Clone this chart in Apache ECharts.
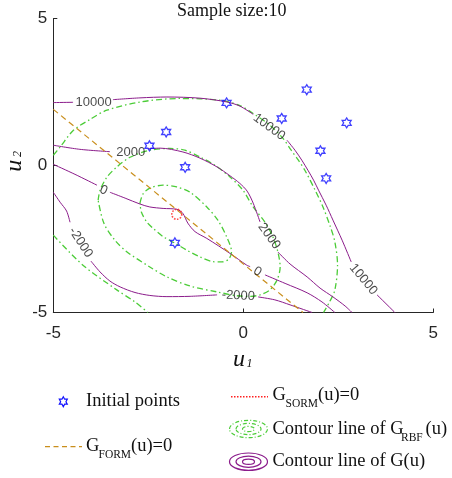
<!DOCTYPE html>
<html lang="en">
  <head>
    <meta charset="UTF-8" />
    <title>Sample size:10</title>
    <style>
      html,
      body {
        margin: 0;
        padding: 0;
        background: #fff;
      }
      #main {
        width: 452px;
        height: 478px;
      }
    </style>
  </head>
  <body>
    <div id="main"></div>
    <script src="https://cdn.jsdelivr.net/npm/echarts@6.0.0/dist/echarts.min.js"></script>
    <script>
      // contour lines of G(u), split where the level labels sit
      const g10000 = [
        [[-5, 2.14], [-4.48, 2.15]],
        [[-3.43, 2.24], [-2.72, 2.3], [-2.01, 2.33], [-1.14, 2.29], [-0.43, 2.16], [-0.09, 2.02], [0.26, 1.74]],
        [[1.15, 0.86], [1.36, 0.52], [1.54, 0.18], [1.7, -0.16], [1.85, -0.5], [1.98, -0.84], [2.18, -1.35], [2.36, -1.86], [2.6, -2.54], [2.84, -3.28]],
        [[3.52, -4.4], [3.99, -5]],
      ];
      const g2000 = [
        [[-5, 0.69], [-4.3, 0.55], [-3.51, 0.47]],
        [[-2.51, 0.57], [-2.19, 0.59], [-1.59, 0.46], [-1.14, 0.25], [-0.69, -0.05], [-0.35, -0.35], [-0.09, -0.61], [0.1, -0.87], [0.26, -1.28], [0.44, -1.92]],
        [[0.91, -2.94], [1.23, -3.35], [1.68, -3.79], [2.02, -4.17], [2.36, -4.47], [2.68, -4.78], [2.86, -5]],
      ];
      const g0 = [
        [[-5, 0.04], [-4.43, -0.3], [-3.85, -0.67]],
        [[-3.51, -0.91], [-3.11, -1.11], [-2.72, -1.31], [-2.46, -1.41], [-2.11, -1.46], [-1.75, -1.49], [-1.59, -1.63], [-1.46, -1.96], [-1.27, -2.25], [-0.96, -2.48], [-0.35, -2.99], [0.09, -3.39], [0.18, -3.44]],
        [[0.57, -3.72], [1.1, -4.01], [1.68, -4.33], [2.07, -4.64], [2.41, -5]],
      ];
      const gMinus2000 = [
        [[-5, -0.91], [-4.82, -1.25], [-4.65, -1.55], [-4.56, -1.93]],
        [[-4.01, -3.25], [-3.77, -3.62], [-3.51, -3.93], [-3.24, -4.13], [-2.85, -4.32], [-2.46, -4.42], [-2.01, -4.46], [-1.4, -4.45], [-0.69, -4.4]],
        [[0.39, -4.47], [0.83, -4.57], [1.23, -4.74], [1.81, -5]],
      ];

      // contour lines of the RBF surrogate
      const rbfOuter = [
        [[-5, 0.35], [-4.82, 0.63], [-4.47, 1.2], [-4.03, 1.57], [-3.59, 1.88], [-2.72, 2.16], [-1.67, 2.28], [-0.61, 2.22], [-0.09, 2.04], [0.26, 1.77], [0.7, 1.37], [1.04, 0.93], [1.26, 0.52], [1.45, 0.18], [1.62, -0.16], [1.89, -0.84], [2.1, -1.42], [2.29, -2.08], [2.41, -2.6], [2.48, -3.38], [2.41, -4.23], [2.27, -4.64], [2.11, -5]],
        [[-5, -2.37], [-4.22, -3.39], [-3.33, -4.23], [-2.85, -4.64], [-2.51, -5]],
      ];
      const rbfMiddle = [
        [-3.82, -1.18], [-3.77, -0.84], [-3.59, -0.4], [-3.33, -0.05], [-2.98, 0.28], [-2.46, 0.52], [-1.93, 0.58], [-1.54, 0.52], [-1.14, 0.29], [-0.75, 0.01], [-0.35, -0.39], [-0.01, -0.84], [0.26, -1.41], [0.57, -1.93], [0.78, -2.43], [0.91, -2.94], [0.97, -3.45], [0.89, -3.89], [0.7, -4.23], [0.44, -4.4], [0.18, -4.45], [-0.17, -4.43], [-0.69, -4.3], [-1.4, -4.1], [-2.01, -3.79], [-2.46, -3.45], [-3.06, -2.94], [-3.38, -2.54], [-3.67, -1.96], [-3.82, -1.18],
      ];
      const rbfInner = [
        [-2.72, -1.28], [-2.64, -0.97], [-2.46, -0.77], [-2.11, -0.67], [-1.75, -0.73], [-1.4, -0.91], [-0.96, -1.41], [-0.67, -1.86], [-0.44, -2.42], [-0.31, -2.93], [-0.38, -3.18], [-0.56, -3.28], [-0.8, -3.27], [-1.14, -3.11], [-1.49, -2.88], [-1.8, -2.64], [-2.11, -2.42], [-2.38, -2.13], [-2.54, -1.92], [-2.68, -1.59], [-2.72, -1.28],
      ];

      const formLine = [[-5, 1.91], [1.57, -5]];
      const sormPoint = [[-1.75, -1.66]];
      const initialPoints = [
        [-0.44, 2.13], [1.01, 1.6], [1.67, 2.58], [2.72, 1.45], [2.03, 0.5],
        [2.18, -0.44], [-2.03, 1.14], [-2.47, 0.67], [-1.53, -0.06], [-1.8, -2.63],
      ];
      // level label: text, u1, u2, angle
      const contourLabels = [
        ["10000", -3.94, 2.16, 0],
        ["10000", 0.68, 1.31, -36],
        ["2000", -2.96, 0.45, 0],
        ["0", -3.68, -0.84, -25],
        ["-2000", -4.28, -2.62, -57],
        ["-2000", -0.13, -4.43, -3],
        ["2000", 0.68, -2.4, -54],
        ["0", 0.37, -3.61, -30],
        ["10000", 3.16, -3.87, -50],
      ];
      const ticks = [-5, 0, 5];

      const purple = "#8b1c8b";
      const green = "#4ccc38";
      const orange = "#c98e1c";
      const serif = '"Liberation Serif", "Times New Roman", serif';
      const sans = '"Liberation Sans", Arial, sans-serif';
      const starPath =
        "path://M0,-100L28.9,-50L86.6,-50L57.7,0L86.6,50L28.9,50L0,100L-28.9,50L-86.6,50L-57.7,0L-86.6,-50L-28.9,-50Z";
      const starPts = [[0, -1], [0.289, -0.5], [0.866, -0.5], [0.577, 0], [0.866, 0.5], [0.289, 0.5], [0, 1], [-0.289, 0.5], [-0.866, 0.5], [-0.577, 0], [-0.866, -0.5], [-0.289, -0.5]];

      function curves(segs, color, width, dash, z) {
        return segs.map((seg) => ({
          type: "line",
          data: seg,
          showSymbol: false,
          smooth: 0.3,
          silent: true,
          z: z,
          lineStyle: { color: color, width: width, type: dash },
        }));
      }

      function txt(x, y, text, size, extra) {
        return {
          type: "text",
          x: x,
          y: y,
          silent: true,
          rotation: (extra && extra.rotation) || 0,
          style: {
            text: text,
            fontSize: size,
            fontFamily: serif,
            fontStyle: extra && extra.italic ? "italic" : "normal",
            fill: "#111",
            textAlign: "left",
            align: "left",
            textVerticalAlign: "middle",
            verticalAlign: "middle",
          },
        };
      }

      function rings(cx, cy, color, dash) {
        return [[19, 8.7], [12.5, 5.6], [6, 2.6]].map((r) => ({
          type: "ellipse",
          silent: true,
          shape: { cx: cx, cy: cy, rx: r[0], ry: r[1] },
          style: { fill: "none", stroke: color, lineWidth: 1.2, lineDash: dash },
        }));
      }

      const axisCommon = {
        type: "value",
        min: -5,
        max: 5,
        interval: 5,
        axisLine: { show: true, onZero: false, lineStyle: { color: "#262626", width: 1 } },
        axisTick: { show: true, inside: true, length: 4, lineStyle: { color: "#262626" } },
        splitLine: { show: false },
      };

      const myChart = echarts.init(document.getElementById("main"));
      const series = [].concat(
        curves(rbfOuter, green, 1.3, [6, 3, 1.5, 3], 2),
        curves([rbfMiddle, rbfInner], green, 1.3, [6, 3, 1.5, 3], 2),
        curves(g10000, purple, 1, "solid", 3),
        curves(g2000, purple, 1, "solid", 3),
        curves(g0, purple, 1, "solid", 3),
        curves(gMinus2000, purple, 1, "solid", 3),
        [
          {
            type: "line",
            data: formLine,
            showSymbol: false,
            silent: true,
            z: 4,
            lineStyle: { color: orange, width: 1.2, type: [6, 4] },
          },
          {
            type: "scatter",
            data: sormPoint,
            symbol: "circle",
            symbolSize: 10,
            silent: true,
            z: 5,
            itemStyle: { color: "rgba(0,0,0,0)", borderColor: "#ff2020", borderWidth: 1.6, borderType: [1.5, 1.5] },
          },
          {
            type: "scatter",
            data: initialPoints,
            symbol: starPath,
            symbolSize: [9, 10],
            silent: true,
            z: 6,
            itemStyle: { color: "rgba(0,0,0,0)", borderColor: "#1010ff", borderWidth: 1.3 },
          },
          {
            type: "scatter",
            symbolSize: 0,
            silent: true,
            z: 5,
            data: contourLabels.map((l) => ({ name: l[0], value: [l[1], l[2]], label: { rotate: l[3] } })),
            label: { show: true, position: "inside", formatter: "{b}", fontSize: 13, fontFamily: sans, color: "#1a1a1a" },
          },
        ]
      );

      const option = {
        animation: false,
        backgroundColor: "#fff",
        title: {
          text: "Sample size:10",
          left: 177,
          top: 2,
          padding: 0,
          textStyle: { fontFamily: serif, fontSize: 18, fontWeight: "normal", color: "#111" },
        },
        grid: { left: 53.3, right: 18.7, top: 18.5, bottom: 165.5, outerBoundsMode: "none" },
        xAxis: Object.assign({}, axisCommon, {
          axisLabel: { margin: 12, fontSize: 17, fontFamily: sans, color: "#262626", formatter: (v) => (ticks.indexOf(v) >= 0 ? String(v) : "") },
        }),
        yAxis: Object.assign({}, axisCommon, {
          axisLabel: { margin: 6, fontSize: 17, fontFamily: sans, color: "#262626", formatter: (v) => (ticks.indexOf(v) >= 0 ? String(v) : "") },
        }),
        graphic: [].concat(
          [
            // axis names
            txt(233, 360, "u", 24, { italic: true }),
            txt(246.5, 364, "1", 12, { italic: true }),
            txt(14.5, 171.7, "u", 24, { italic: true, rotation: Math.PI / 2 }),
            txt(18.2, 157, "2", 12, { italic: true, rotation: Math.PI / 2 }),
            // legend, left column
            {
              type: "polygon",
              silent: true,
              x: 63.3,
              y: 401.7,
              shape: { points: starPts.map((p) => [p[0] * 4.6, p[1] * 5]) },
              style: { fill: "none", stroke: "#1010ff", lineWidth: 1.2 },
            },
            txt(86, 401.5, "Initial points", 18.5),
            {
              type: "line",
              silent: true,
              shape: { x1: 45, y1: 446.7, x2: 82, y2: 446.7 },
              style: { stroke: orange, lineWidth: 1.2, lineDash: [5, 3.5] },
            },
            txt(86, 446, "G", 18.5),
            txt(98.5, 455, "FORM", 11.5),
            txt(131, 446, "(u)=0", 18.5),
            // legend, right column
            {
              type: "line",
              silent: true,
              shape: { x1: 231, y1: 396.7, x2: 268, y2: 396.7 },
              style: { stroke: "#ff2020", lineWidth: 1.5, lineDash: [1.5, 1.5] },
            },
            txt(272.5, 395, "G", 18.5),
            txt(285.5, 403.5, "SORM", 11.5),
            txt(318, 395, "(u)=0", 18.5),
            txt(272.5, 429.5, "Contour line of G", 18.5),
            txt(401, 437.5, "RBF", 11.5),
            txt(425.5, 429.5, "(u)", 18.5),
            txt(272.5, 461.5, "Contour line of G(u)", 18.5),
          ],
          rings(248.5, 429, green, [4, 2, 1, 2]),
          rings(248.5, 461.7, purple, null)
        ),
        series: series,
      };

      myChart.setOption(option);
    </script>
  </body>
</html>
